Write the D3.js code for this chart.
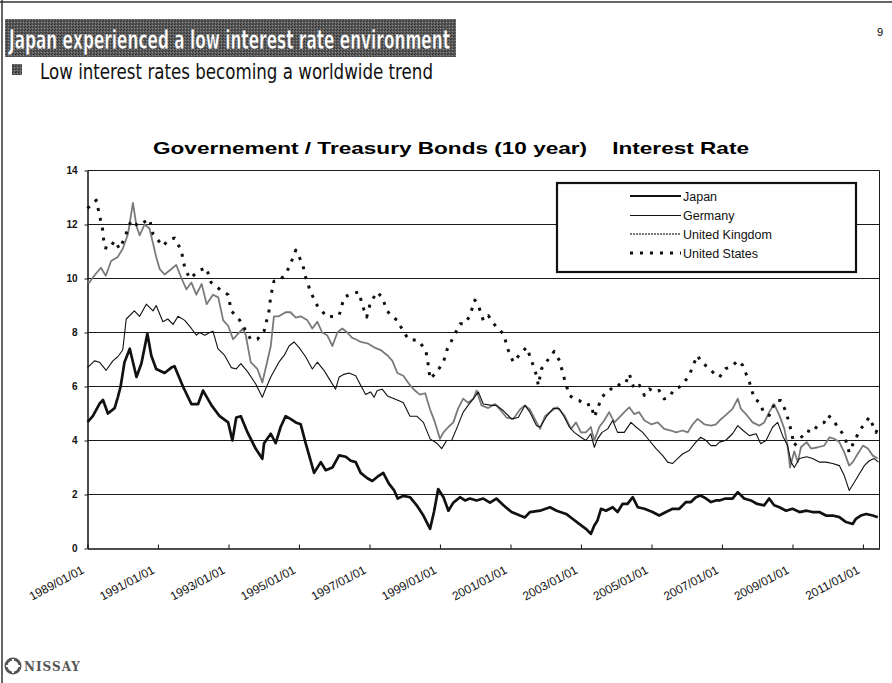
<!DOCTYPE html>
<html>
<head>
<meta charset="utf-8">
<script src="https://cdn.jsdelivr.net/npm/d3@7"></script>
<style>
  body { margin: 0; background: #fff; }
  svg { display: block; }
</style>
</head>
<body>
<div id="chart"></div>
<script>
// values: [decimal year, rate %]
const japan = [[1989.0,4.68],[1989.15,4.9],[1989.34,5.36],[1989.44,5.5],[1989.58,5.0],[1989.77,5.2],[1989.86,5.6],[1989.94,6.0],[1990.05,6.9],[1990.2,7.4],[1990.39,6.35],[1990.53,6.85],[1990.7,7.95],[1990.81,7.15],[1990.95,6.65],[1991.19,6.5],[1991.38,6.7],[1991.47,6.75],[1991.71,6.0],[1991.95,5.35],[1992.14,5.35],[1992.28,5.85],[1992.52,5.3],[1992.75,4.9],[1992.99,4.67],[1993.11,4.0],[1993.22,4.85],[1993.35,4.9],[1993.54,4.3],[1993.77,3.7],[1993.96,3.32],[1994.01,3.9],[1994.2,4.25],[1994.34,3.9],[1994.48,4.5],[1994.62,4.9],[1994.76,4.8],[1994.91,4.67],[1995.05,4.6],[1995.19,3.9],[1995.43,2.8],[1995.62,3.2],[1995.76,2.9],[1995.95,3.0],[1996.14,3.45],[1996.33,3.4],[1996.47,3.25],[1996.61,3.2],[1996.75,2.8],[1996.94,2.6],[1997.08,2.5],[1997.22,2.65],[1997.39,2.8],[1997.55,2.4],[1997.7,2.15],[1997.8,1.85],[1997.96,1.95],[1998.15,1.9],[1998.34,1.6],[1998.53,1.22],[1998.72,0.73],[1998.83,1.35],[1998.95,2.2],[1999.1,1.9],[1999.24,1.4],[1999.38,1.7],[1999.57,1.9],[1999.71,1.78],[1999.85,1.85],[2000.04,1.78],[2000.23,1.85],[2000.42,1.7],[2000.6,1.85],[2000.8,1.6],[2001.03,1.35],[2001.27,1.22],[2001.41,1.15],[2001.55,1.35],[2001.84,1.4],[2002.12,1.53],[2002.31,1.4],[2002.58,1.28],[2002.76,1.1],[2002.95,0.91],[2003.14,0.73],[2003.28,0.54],[2003.38,0.85],[2003.47,1.04],[2003.57,1.47],[2003.71,1.4],[2003.9,1.53],[2004.04,1.35],[2004.18,1.65],[2004.32,1.65],[2004.47,1.9],[2004.61,1.53],[2004.8,1.47],[2005.03,1.35],[2005.22,1.22],[2005.41,1.35],[2005.6,1.47],[2005.79,1.47],[2005.98,1.72],[2006.12,1.72],[2006.26,1.9],[2006.4,1.96],[2006.55,1.85],[2006.69,1.72],[2006.83,1.78],[2006.93,1.78],[2007.1,1.85],[2007.3,1.85],[2007.45,2.09],[2007.63,1.85],[2007.82,1.78],[2008.0,1.65],[2008.2,1.6],[2008.34,1.85],[2008.48,1.6],[2008.63,1.53],[2008.82,1.4],[2009.0,1.47],[2009.2,1.35],[2009.4,1.4],[2009.57,1.35],[2009.76,1.35],[2009.95,1.22],[2010.14,1.22],[2010.33,1.16],[2010.52,0.98],[2010.71,0.91],[2010.8,1.1],[2010.94,1.22],[2011.09,1.28],[2011.28,1.22],[2011.42,1.16]];

const germany = [[1989.0,6.7],[1989.2,6.95],[1989.34,6.9],[1989.53,6.6],[1989.72,6.95],[1989.86,7.1],[1990.0,7.35],[1990.1,8.5],[1990.33,8.8],[1990.48,8.6],[1990.67,9.05],[1990.86,8.8],[1990.95,9.0],[1991.14,8.4],[1991.28,8.5],[1991.43,8.3],[1991.57,8.6],[1991.76,8.45],[1991.95,8.15],[1992.09,7.9],[1992.18,8.0],[1992.33,7.9],[1992.47,8.0],[1992.56,8.05],[1992.7,7.4],[1992.89,7.15],[1993.08,6.7],[1993.22,6.65],[1993.35,6.85],[1993.54,6.55],[1993.77,6.1],[1993.96,5.6],[1994.05,5.9],[1994.2,6.35],[1994.43,6.9],[1994.58,7.15],[1994.72,7.5],[1994.86,7.65],[1995.0,7.45],[1995.19,7.1],[1995.38,6.65],[1995.52,6.9],[1995.71,6.6],[1995.85,6.3],[1996.04,5.9],[1996.14,6.35],[1996.28,6.45],[1996.42,6.5],[1996.61,6.4],[1996.75,6.05],[1996.89,5.7],[1997.03,5.8],[1997.13,5.6],[1997.22,5.85],[1997.36,5.9],[1997.51,5.65],[1997.7,5.55],[1997.87,5.45],[1997.96,5.4],[1998.15,4.9],[1998.34,4.9],[1998.53,4.67],[1998.72,4.06],[1998.91,3.9],[1999.05,3.7],[1999.19,4.0],[1999.33,4.0],[1999.47,4.43],[1999.66,5.05],[1999.8,5.3],[1999.95,5.55],[2000.09,5.8],[2000.23,5.35],[2000.47,5.3],[2000.61,5.3],[2000.8,5.1],[2001.03,4.8],[2001.22,4.85],[2001.41,5.3],[2001.55,5.05],[2001.74,4.55],[2001.84,4.5],[2002.03,4.9],[2002.22,5.2],[2002.39,5.17],[2002.53,4.86],[2002.67,4.5],[2002.81,4.3],[2003.0,4.12],[2003.14,4.0],[2003.28,4.25],[2003.38,3.75],[2003.47,4.06],[2003.6,4.3],[2003.76,4.43],[2003.9,4.74],[2004.04,4.3],[2004.23,4.3],[2004.42,4.67],[2004.56,4.5],[2004.75,4.3],[2004.94,4.0],[2005.13,3.7],[2005.32,3.44],[2005.46,3.2],[2005.6,3.15],[2005.74,3.33],[2005.88,3.5],[2006.07,3.63],[2006.26,3.94],[2006.4,4.12],[2006.55,4.0],[2006.69,3.81],[2006.83,3.81],[2006.93,3.94],[2007.1,4.0],[2007.3,4.25],[2007.45,4.55],[2007.6,4.37],[2007.78,4.18],[2007.97,4.25],[2008.1,3.88],[2008.25,4.0],[2008.44,4.5],[2008.58,4.67],[2008.72,4.18],[2008.86,3.81],[2008.96,3.2],[2009.05,3.0],[2009.2,3.33],[2009.4,3.4],[2009.57,3.33],[2009.76,3.2],[2009.95,3.2],[2010.14,3.15],[2010.33,3.07],[2010.47,2.7],[2010.61,2.15],[2010.76,2.46],[2010.9,2.77],[2011.04,3.07],[2011.18,3.25],[2011.32,3.33],[2011.44,3.2]];

const unitedKingdom = [[1989.0,9.9],[1989.05,9.85],[1989.19,10.1],[1989.38,10.4],[1989.52,10.1],[1989.67,10.65],[1989.86,10.8],[1990.0,11.1],[1990.15,11.65],[1990.29,12.8],[1990.39,11.95],[1990.48,11.6],[1990.62,12.0],[1990.76,11.85],[1990.86,11.3],[1990.95,10.8],[1991.05,10.35],[1991.19,10.15],[1991.38,10.35],[1991.52,10.5],[1991.67,10.0],[1991.81,9.6],[1991.95,9.85],[1992.09,9.4],[1992.24,9.8],[1992.38,9.05],[1992.56,9.4],[1992.71,9.3],[1992.85,8.45],[1992.99,8.25],[1993.13,7.75],[1993.27,7.95],[1993.41,8.15],[1993.49,7.9],[1993.63,6.9],[1993.82,6.65],[1993.96,6.15],[1994.05,6.65],[1994.2,7.5],[1994.29,8.6],[1994.43,8.6],[1994.62,8.75],[1994.76,8.75],[1994.91,8.55],[1995.05,8.6],[1995.24,8.45],[1995.38,8.15],[1995.52,8.4],[1995.66,8.0],[1995.8,7.9],[1995.95,7.5],[1996.09,8.0],[1996.23,8.15],[1996.37,8.0],[1996.51,7.8],[1996.61,7.75],[1996.75,7.65],[1996.94,7.6],[1997.13,7.45],[1997.32,7.35],[1997.51,7.15],[1997.65,6.95],[1997.79,6.5],[1997.96,6.4],[1998.15,6.05],[1998.29,5.85],[1998.43,5.7],[1998.58,5.75],[1998.72,5.15],[1998.86,4.67],[1999.0,4.06],[1999.1,4.3],[1999.24,4.5],[1999.38,4.67],[1999.52,5.2],[1999.66,5.55],[1999.8,5.4],[1999.95,5.55],[2000.04,5.85],[2000.18,5.3],[2000.37,5.2],[2000.56,5.35],[2000.7,5.15],[2000.89,4.85],[2001.08,4.8],[2001.27,5.15],[2001.41,5.3],[2001.55,5.15],[2001.74,4.67],[2001.84,4.43],[2001.98,4.9],[2002.17,5.1],[2002.33,5.23],[2002.53,4.93],[2002.72,4.43],[2002.86,4.67],[2003.0,4.3],[2003.14,4.3],[2003.28,4.5],[2003.38,4.0],[2003.52,4.5],[2003.66,4.74],[2003.8,5.05],[2003.95,4.67],[2004.09,4.86],[2004.23,5.05],[2004.37,5.23],[2004.51,4.98],[2004.65,5.05],[2004.8,4.74],[2004.99,4.6],[2005.18,4.67],[2005.36,4.43],[2005.55,4.37],[2005.7,4.3],[2005.88,4.37],[2006.03,4.3],[2006.17,4.6],[2006.31,4.8],[2006.5,4.6],[2006.69,4.55],[2006.83,4.6],[2006.93,4.74],[2007.1,4.93],[2007.3,5.17],[2007.45,5.55],[2007.54,5.17],[2007.68,4.98],[2007.87,4.67],[2008.06,4.55],[2008.2,4.67],[2008.34,5.05],[2008.48,5.35],[2008.63,4.93],[2008.77,4.43],[2008.86,3.81],[2008.93,3.0],[2009.05,3.6],[2009.15,3.2],[2009.24,3.75],[2009.4,3.94],[2009.53,3.7],[2009.72,3.75],[2009.9,3.81],[2010.05,4.12],[2010.19,4.06],[2010.33,3.94],[2010.47,3.56],[2010.61,3.07],[2010.71,3.2],[2010.85,3.5],[2011.0,3.81],[2011.14,3.7],[2011.28,3.44],[2011.42,3.33]];

const unitedStates = [[1989.0,12.6],[1989.25,12.9],[1989.34,12.35],[1989.43,11.8],[1989.48,11.15],[1989.62,11.1],[1989.77,11.4],[1989.91,11.1],[1990.05,11.5],[1990.24,12.15],[1990.43,11.95],[1990.62,12.1],[1990.76,12.2],[1990.86,11.65],[1991.14,11.2],[1991.28,11.4],[1991.47,11.5],[1991.66,11.05],[1991.76,10.4],[1991.9,10.0],[1992.18,10.3],[1992.37,10.4],[1992.51,9.85],[1992.8,9.55],[1992.99,9.4],[1993.08,8.8],[1993.32,8.45],[1993.63,7.75],[1993.82,7.75],[1994.01,8.05],[1994.15,8.8],[1994.2,9.35],[1994.29,9.9],[1994.48,9.95],[1994.72,10.4],[1994.91,11.05],[1995.1,10.55],[1995.19,10.05],[1995.33,9.5],[1995.52,9.0],[1995.8,8.57],[1996.14,8.63],[1996.28,9.3],[1996.47,9.43],[1996.7,9.5],[1996.8,9.0],[1996.92,8.57],[1997.03,9.12],[1997.22,9.5],[1997.36,9.3],[1997.5,8.8],[1997.65,8.57],[1997.8,8.45],[1997.87,8.25],[1998.1,7.75],[1998.39,7.7],[1998.6,7.33],[1998.67,6.78],[1998.72,6.28],[1998.9,6.53],[1999.1,6.9],[1999.19,7.33],[1999.38,7.83],[1999.57,8.32],[1999.71,8.32],[1999.85,8.63],[1999.99,9.2],[2000.09,9.0],[2000.23,8.45],[2000.37,8.63],[2000.6,8.2],[2000.8,7.95],[2000.94,7.33],[2001.08,6.9],[2001.27,7.2],[2001.46,7.45],[2001.6,6.95],[2001.74,6.4],[2001.79,6.04],[2001.88,6.65],[2002.07,7.0],[2002.24,7.3],[2002.39,6.96],[2002.53,6.28],[2002.67,5.67],[2002.81,5.54],[2002.95,5.48],[2003.14,5.3],[2003.28,5.35],[2003.38,4.86],[2003.47,5.17],[2003.57,5.54],[2003.71,5.79],[2003.85,5.91],[2003.99,5.91],[2004.14,6.16],[2004.28,6.16],[2004.37,6.47],[2004.51,5.91],[2004.66,6.04],[2004.8,5.67],[2004.94,5.91],[2005.08,5.79],[2005.22,5.85],[2005.36,5.54],[2005.5,5.6],[2005.65,5.91],[2005.79,5.98],[2005.93,6.16],[2006.07,6.41],[2006.22,6.9],[2006.31,7.15],[2006.41,6.9],[2006.6,6.72],[2006.83,6.41],[2006.93,6.35],[2007.1,6.66],[2007.26,6.72],[2007.45,6.96],[2007.59,6.78],[2007.78,6.16],[2007.92,5.54],[2008.06,5.42],[2008.2,5.0],[2008.34,4.93],[2008.53,5.48],[2008.67,5.48],[2008.82,5.05],[2008.96,4.37],[2009.05,3.81],[2009.29,4.18],[2009.4,4.37],[2009.57,4.3],[2009.71,4.55],[2009.9,4.67],[2010.0,4.93],[2010.14,4.8],[2010.28,4.5],[2010.47,4.18],[2010.61,3.56],[2010.76,4.0],[2010.94,4.43],[2011.18,4.86],[2011.37,4.3],[2011.44,4.5]];

const seriesNames = ["Japan", "Germany", "United Kingdom", "United States"];
const xTickYears = [1989, 1991, 1993, 1995, 1997, 1999, 2001, 2003, 2005, 2007, 2009, 2011];
const yTicks = [0, 2, 4, 6, 8, 10, 12, 14];
const lastYear = 2011.47;

let dimensions = {
    width: 892,
    height: 683,
    margin: { top: 170, right: 13, bottom: 135, left: 87 }
};
dimensions.boundedWidth = dimensions.width - dimensions.margin.left - dimensions.margin.right;
dimensions.boundedHeight = dimensions.height - dimensions.margin.top - dimensions.margin.bottom;

// decimal year -> Date
function toDate(y) {
    const yr = Math.floor(y);
    const a = Date.UTC(yr, 0, 1), b = Date.UTC(yr + 1, 0, 1);
    return new Date(a + (y - yr) * (b - a));
}

const root = d3.select("#chart").append("svg")
    .attr("width", dimensions.width)
    .attr("height", dimensions.height);

// dithered fill for the title bar
const defs = root.append("defs");
const pat = defs.append("pattern").attr("id", "dither")
    .attr("width", 3).attr("height", 3).attr("patternUnits", "userSpaceOnUse");
pat.append("rect").attr("width", 3).attr("height", 3).attr("fill", "#5b5b5b");
pat.append("rect").attr("width", 1).attr("height", 1).attr("fill", "#2e2e2e");
pat.append("rect").attr("x", 2).attr("y", 1).attr("width", 1).attr("height", 1).attr("fill", "#8a8a8a");
pat.append("rect").attr("x", 1).attr("y", 2).attr("width", 1).attr("height", 1).attr("fill", "#3a3a3a");

// page frame
root.append("line").attr("x1", 0).attr("x2", 892).attr("y1", 2).attr("y2", 2)
    .attr("stroke", "#333").attr("stroke-width", 1.5);
root.append("line").attr("x1", 2).attr("x2", 2).attr("y1", 0).attr("y2", 683)
    .attr("stroke", "#333").attr("stroke-width", 1.5);

// slide header
root.append("rect").attr("x", 5).attr("y", 19).attr("width", 451).attr("height", 38)
    .attr("fill", "url(#dither)");
root.append("text").attr("x", 9).attr("y", 49)
    .attr("font-family", "DejaVu Sans").attr("font-weight", "bold").attr("font-size", 27)
    .attr("fill", "#fff").attr("stroke", "#222").attr("stroke-width", 0.4)
    .attr("textLength", 441).attr("lengthAdjust", "spacingAndGlyphs")
    .text("Japan experienced a low interest rate environment");
root.append("text").attr("x", 880).attr("y", 36)
    .attr("font-family", "Liberation Sans").attr("font-size", 11).attr("text-anchor", "middle")
    .text("9");

root.append("rect").attr("x", 12).attr("y", 64).attr("width", 10).attr("height", 11)
    .attr("fill", "url(#dither)");
root.append("text").attr("x", 40).attr("y", 79)
    .attr("font-family", "DejaVu Sans").attr("font-size", 20.5).attr("fill", "#111")
    .attr("textLength", 393).attr("lengthAdjust", "spacingAndGlyphs")
    .text("Low interest rates becoming a worldwide trend");

root.append("text").attr("x", 153).attr("y", 154)
    .attr("font-family", "Liberation Sans").attr("font-weight", "bold").attr("font-size", 17)
    .attr("textLength", 596).attr("lengthAdjust", "spacingAndGlyphs")
    .attr("xml:space", "preserve")
    .text("Governement / Treasury Bonds (10 year)    Interest Rate");

// logo
const logo = root.append("g").attr("transform", "translate(13,666)");
logo.append("circle").attr("r", 7).attr("fill", "none").attr("stroke", "#555").attr("stroke-width", 3);
logo.append("path").attr("d", "M-7,0 L7,0 M0,-7 L0,7").attr("stroke", "#fff").attr("stroke-width", 2);
root.append("text").attr("x", 24).attr("y", 671)
    .attr("font-family", "DejaVu Serif").attr("font-weight", "bold").attr("font-size", 12)
    .attr("fill", "#555").attr("letter-spacing", 1).text("NISSAY");

// half-pixel offset keeps 1px rules crisp
const svg = root.append("g")
    .attr("transform", `translate(${dimensions.margin.left + 0.5},${dimensions.margin.top + 0.5})`);

const xScale = d3.scaleUtc()
    .domain([toDate(1989), toDate(lastYear)])
    .range([0, dimensions.boundedWidth]);

const yScale = d3.scaleLinear()
    .domain([0, 14])
    .range([dimensions.boundedHeight, 0]);

// gridlines
svg.append("g").selectAll("line")
    .data(yTicks.filter(d => d > 0))
    .join("line")
    .attr("x1", 0).attr("x2", dimensions.boundedWidth)
    .attr("y1", d => yScale(d)).attr("y2", d => yScale(d))
    .attr("stroke", "#1a1a1a").attr("stroke-width", 1);

// right border
svg.append("line")
    .attr("x1", dimensions.boundedWidth).attr("x2", dimensions.boundedWidth)
    .attr("y1", 0).attr("y2", dimensions.boundedHeight)
    .attr("stroke", "#1a1a1a").attr("stroke-width", 1);

// axes
const xAxis = svg.append("g")
    .attr("transform", `translate(0,${dimensions.boundedHeight})`)
    .call(d3.axisBottom(xScale)
        .tickValues(xTickYears.map(toDate))
        .tickSize(-4)
        .tickSizeOuter(0)
        .tickFormat(d3.utcFormat("%Y/%m/%d")));
xAxis.select(".domain").attr("stroke", "#111").attr("stroke-width", 1.5);
xAxis.selectAll(".tick line").attr("stroke", "#111");
xAxis.selectAll("text")
    .attr("font-family", "Liberation Sans").attr("font-size", 12).attr("fill", "#111")
    .attr("text-anchor", "end")
    .attr("dy", 0).attr("y", 0)
    .attr("transform", "translate(-3,24) rotate(-28)");

const yAxis = svg.append("g")
    .call(d3.axisLeft(yScale).tickValues(yTicks).tickSize(3).tickSizeOuter(0).tickPadding(7));
yAxis.select(".domain").attr("stroke", "#111").attr("stroke-width", 1.5);
yAxis.selectAll(".tick line").attr("stroke", "#111");
yAxis.selectAll("text")
    .attr("font-family", "Liberation Sans").attr("font-weight", "bold").attr("font-size", 10).attr("fill", "#111");

const line = d3.line()
    .x(d => xScale(toDate(d[0])))
    .y(d => yScale(d[1]));

const styles = [
    { data: japan, stroke: "#111", width: 2.7, dash: null },
    { data: germany, stroke: "#111", width: 1.1, dash: null },
    { data: unitedKingdom, stroke: "#7a7a7a", width: 1.8, dash: null },
    { data: unitedStates, stroke: "#111", width: 3, dash: "3,7" }
];

// UK and US behind, Japan and Germany on top
[2, 3, 1, 0].forEach(i => {
    const s = styles[i];
    svg.append("path")
        .datum(s.data)
        .attr("fill", "none")
        .attr("stroke", s.stroke)
        .attr("stroke-width", s.width)
        .attr("stroke-dasharray", s.dash)
        .attr("stroke-linejoin", "round")
        .attr("d", line);
});

// legend
const legend = root.append("g").attr("transform", "translate(557,183)");
legend.append("rect").attr("width", 299).attr("height", 89)
    .attr("fill", "#fff").attr("stroke", "#111").attr("stroke-width", 2.2);
const items = legend.selectAll("g.item")
    .data(seriesNames)
    .join("g")
    .attr("transform", (d, i) => `translate(0,${13 + i * 19})`);
items.append("line")
    .attr("x1", 73).attr("x2", 124)
    .attr("y1", (d, i) => i === 1 ? 0.5 : 0).attr("y2", (d, i) => i === 1 ? 0.5 : 0)
    .attr("stroke", (d, i) => styles[i].stroke)
    .attr("stroke-width", (d, i) => i === 0 ? 2 : (i === 1 ? 1 : styles[i].width))
    .attr("stroke-dasharray", (d, i) => i === 2 ? "2,1" : styles[i].dash);
items.append("text")
    .attr("x", 126).attr("y", 4.5)
    .attr("font-family", "Liberation Sans").attr("font-size", 12.5).attr("fill", "#111")
    .text(d => d);
</script>
</body>
</html>
